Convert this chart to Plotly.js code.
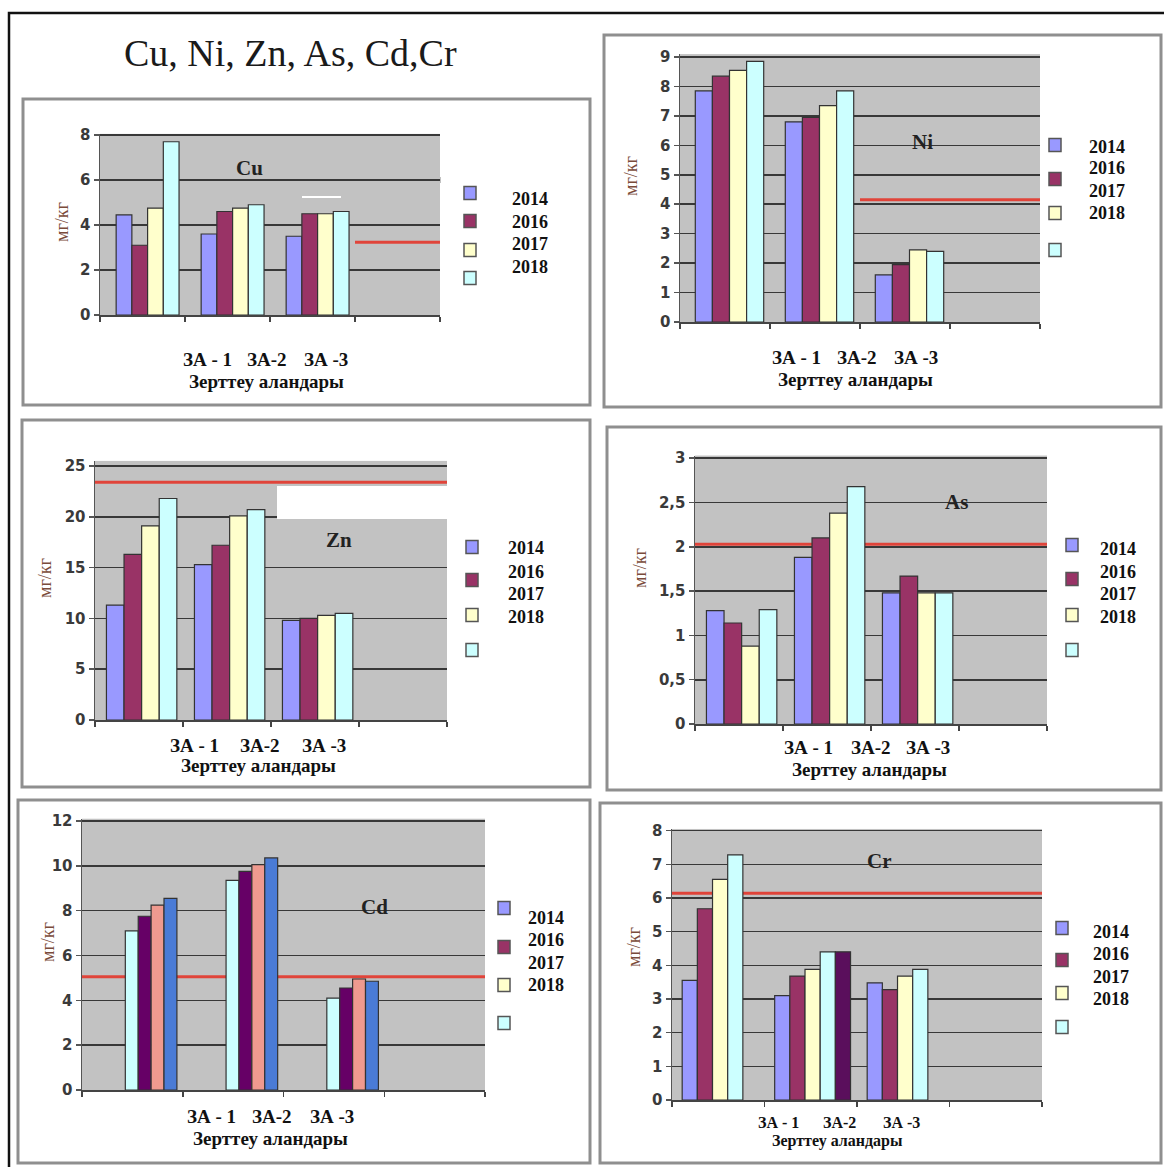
<!DOCTYPE html>
<html><head><meta charset="utf-8">
<script src="https://cdn.plot.ly/plotly-3.0.1.min.js"></script>
<style>html,body{margin:0;padding:0;background:#fff}#chart{width:1164px;height:1167px}</style>
</head><body><div id="chart"></div>
<script>
// ---------- DATA ----------
const years = ['2014', '2016', '2017', '2018'];
const sites = ['ЗА - 1', 'ЗА-2', 'ЗА -3'];
const xTitle = 'Зерттеу аландары';
const unitLabel = 'мг/кг';
const mainTitle = 'Cu, Ni, Zn, As, Cd,Cr';

const cu2014 = [4.45, 3.6, 3.5];
const cu2016 = [3.1, 4.6, 4.5];
const cu2017 = [4.75, 4.75, 4.5];
const cu2018 = [7.7, 4.9, 4.6];
const cuNorm = 3.23;

const ni2014 = [7.85, 6.8, 1.6];
const ni2016 = [8.35, 6.95, 1.95];
const ni2017 = [8.55, 7.35, 2.45];
const ni2018 = [8.85, 7.85, 2.4];
const niNorm = 4.15;

const zn2014 = [11.3, 15.3, 9.8];
const zn2016 = [16.3, 17.2, 10.0];
const zn2017 = [19.1, 20.1, 10.3];
const zn2018 = [21.8, 20.7, 10.5];
const znNorm = 23.4;

const as2014 = [1.28, 1.88, 1.48];
const as2016 = [1.14, 2.1, 1.67];
const as2017 = [0.88, 2.38, 1.48];
const as2018 = [1.29, 2.68, 1.48];
const asNorm = 2.03;

const cd2014 = [7.1, 9.35, 4.1];
const cd2016 = [7.75, 9.75, 4.55];
const cd2017 = [8.25, 10.05, 4.95];
const cd2018 = [8.55, 10.35, 4.85];
const cdNorm = 5.05;

const cr2014 = [3.55, 3.1, 3.48];
const cr2016 = [5.68, 3.68, 3.28];
const cr2017 = [6.55, 3.88, 3.68];
const cr2018 = [7.28, 4.4, 3.88];
const crExtra = [null, 4.4, null];
const crNorm = 6.14;

// ---------- STYLE / LAYOUT ----------
const W = 1164, H = 1167;
const px = x => x / W, py = y => 1 - y / H;
const baseColors = ['#9999ff', '#993366', '#ffffcc', '#ccffff'];
const cdColors = ['#ccffff', '#660066', '#ef9a8f', '#4a7bd6'];
const crColors = baseColors.concat(['#5a0f5c']);
const BG = '#c2c2c2';
const SERIF = 'Liberation Serif, Times New Roman, serif';
const TICKFONT = 'DejaVu Sans, Liberation Sans, sans-serif';

const panels = [
  {label: 'Cu', series: [cu2014, cu2016, cu2017, cu2018], colors: baseColors, norm: cuNorm, normFrom: 2.5,
   x0: 100, x1: 440, zeroY: 315, ppu: 22.5, ymax: 8.05, dtick: 2, start: -0.31, bw: 0.185,
   frame: [23, 99, 590, 405], lab: [250, 168], ytl: [62, 222], fs: 19,
   siteX: [207, 267, 326], siteY: 360, titleXY: [266, 381],
   sqX: 470, sqY: [193, 221, 250, 278], lgX: 530, lgY: [199, 222, 244, 267],
   covers: [[218, 278, 6], [333, 441, 6]]},
  {label: 'Ni', series: [ni2014, ni2016, ni2017, ni2018], colors: baseColors, norm: niNorm, normFrom: 1.5,
   x0: 680, x1: 1040, zeroY: 322, ppu: 29.44, ymax: 9.1, dtick: 1, start: -0.33, bw: 0.19,
   frame: [604, 35, 1161, 407], lab: [922, 142], ytl: [631, 176], fs: 19,
   siteX: [796, 857, 916], siteY: 357, titleXY: [855, 380],
   sqX: 1055, sqY: [145, 179, 213, 250], lgX: 1107, lgY: [147, 168, 191, 213],
   covers: [[848, 1040, 6]]},
  {label: 'Zn', series: [zn2014, zn2016, zn2017, zn2018], colors: baseColors, norm: znNorm, normFrom: -0.5,
   x0: 95, x1: 447, zeroY: 720, ppu: 10.16, ymax: 25.5, dtick: 5, start: -0.37, bw: 0.2,
   frame: [22, 420, 590, 787], lab: [339, 540], ytl: [45, 578], fs: 19,
   siteX: [194, 260, 324], siteY: 745, titleXY: [258, 765],
   sqX: 472, sqY: [547, 580, 615, 650], lgX: 526, lgY: [548, 572, 594, 617],
   covers: []},
  {label: 'As', series: [as2014, as2016, as2017, as2018], colors: baseColors, norm: asNorm, normFrom: -0.5,
   x0: 695, x1: 1047, zeroY: 724, ppu: 88.6, ymax: 3.03, dtick: 0.5, start: -0.37, bw: 0.2,
   frame: [607, 427, 1161, 790], lab: [956, 502], ytl: [640, 568], fs: 19,
   siteX: [808, 871, 928], siteY: 747, titleXY: [869, 769],
   sqX: 1072, sqY: [545, 579, 615, 650], lgX: 1118, lgY: [549, 572, 594, 617],
   covers: [[915, 992, 2.5]]},
  {label: 'Cd', series: [cd2014, cd2016, cd2017, cd2018], colors: cdColors, norm: cdNorm, normFrom: -0.5,
   x0: 82, x1: 485, zeroY: 1090, ppu: 22.42, ymax: 12.1, dtick: 2, start: -0.07, bw: 0.128,
   frame: [18, 800, 590, 1163], lab: [374, 907], ytl: [48, 942], fs: 19,
   siteX: [211, 272, 332], siteY: 1116, titleXY: [270, 1138],
   sqX: 504, sqY: [908, 947, 985, 1023], lgX: 546, lgY: [918, 940, 963, 985],
   covers: [[350, 398, 8], [289, 480, 6]]},
  {label: 'Cr', series: [cr2014, cr2016, cr2017, cr2018, crExtra], colors: crColors, norm: crNorm, normFrom: -0.5,
   x0: 672, x1: 1042, zeroY: 1100, ppu: 33.67, ymax: 8.05, dtick: 1, start: -0.39, bw: 0.164,
   frame: [600, 803, 1161, 1163], lab: [879, 861], ytl: [634, 947], fs: 16,
   siteX: [778, 839, 901], siteY: 1122, titleXY: [837, 1141],
   sqX: 1062, sqY: [928, 960, 993, 1027], lgX: 1111, lgY: [932, 954, 977, 999],
   covers: [[845, 911, 7]]}
];

const traces = [];
const layout = {
  width: W, height: H, margin: {l: 0, r: 0, t: 0, b: 0},
  paper_bgcolor: '#ffffff', plot_bgcolor: BG, showlegend: false,
  separators: ', ', barmode: 'overlay',
  shapes: [], annotations: []
};

// outer frame
layout.shapes.push({type: 'rect', xref: 'paper', yref: 'paper', x0: px(9), x1: px(1180), y0: py(13), y1: py(1185),
  line: {color: '#111', width: 2.5}, fillcolor: 'rgba(0,0,0,0)', layer: 'above'});
layout.annotations.push({xref: 'paper', yref: 'paper', x: px(290), y: py(53), text: mainTitle, showarrow: false,
  font: {family: SERIF, size: 38, color: '#1a1a1a'}, xanchor: 'center', yanchor: 'middle'});

panels.forEach((p, idx) => {
  const n = idx + 1;
  const xa = 'x' + n, ya = 'y' + n;
  const topY = p.zeroY - p.ymax * p.ppu;
  const xs = sites.map((_, k) => k);
  p.series.forEach((vals, i) => {
    traces.push({type: 'bar', x: xs, y: vals, xaxis: xa, yaxis: ya,
      width: p.bw, offset: p.start + i * p.bw,
      marker: {color: p.colors[i], line: {color: '#333333', width: 1.2}},
      hoverinfo: 'skip', showlegend: false});
  });
  const ticks = [];
  for (let v = 0; v <= p.ymax + 1e-9; v += p.dtick) ticks.push(+v.toFixed(2));
  const tickText = ticks.map(v => '<b>' + String(v).replace('.', ',') + '</b>');
  layout['xaxis' + n] = {domain: [px(p.x0), px(p.x1)], range: [-0.5, 3.5], anchor: ya,
    tickmode: 'array', tickvals: [-0.5, 0.5, 1.5, 2.5, 3.5], ticks: 'outside', ticklen: 5, tickcolor: '#444', tickwidth: 1.5,
    showticklabels: false, showgrid: false, zeroline: false, showline: true, linecolor: '#444', linewidth: 1.5, fixedrange: true};
  layout['yaxis' + n] = {domain: [py(p.zeroY), py(topY)], range: [0, p.ymax], anchor: xa,
    tickmode: 'array', tickvals: ticks, ticktext: tickText, ticks: 'outside', ticklen: 5, tickcolor: '#555', tickwidth: 1.5,
    showline: true, linecolor: '#555', linewidth: 1.5, showgrid: true, gridcolor: '#383838', gridwidth: 1.6,
    zeroline: false, fixedrange: true,
    tickfont: {family: TICKFONT, size: 15, color: '#3a3a3a', weight: 'bold'}};
  // panel frame
  layout.shapes.push({type: 'rect', xref: 'paper', yref: 'paper', x0: px(p.frame[0]), x1: px(p.frame[2]),
    y0: py(p.frame[3]), y1: py(p.frame[1]), line: {color: '#8f8f8f', width: 3}, fillcolor: 'rgba(0,0,0,0)'});
  // gridline covers (label gaps / faded gridlines)
  p.covers.forEach(c => {
    const gy = p.zeroY - c[2] * p.ppu;
    layout.shapes.push({type: 'rect', xref: 'paper', yref: 'paper', x0: px(c[0]), x1: px(c[1]),
      y0: py(gy + 3), y1: py(gy - 3), line: {width: 0}, fillcolor: BG, layer: 'between'});
  });
  // norm line
  layout.shapes.push({type: 'line', xref: xa, yref: ya, x0: p.normFrom, x1: 3.5, y0: p.norm, y1: p.norm,
    line: {color: '#e0443a', width: 3}, layer: 'between'});
  // element label
  layout.annotations.push({xref: 'paper', yref: 'paper', x: px(p.lab[0]), y: py(p.lab[1]), text: '<b>' + p.label + '</b>',
    showarrow: false, font: {family: SERIF, size: 21, color: '#222'}, xanchor: 'center', yanchor: 'middle'});
  // y title
  layout.annotations.push({xref: 'paper', yref: 'paper', x: px(p.ytl[0]), y: py(p.ytl[1]), text: unitLabel, textangle: -90,
    showarrow: false, font: {family: SERIF, size: 18, color: '#7a4b3a'}, xanchor: 'center', yanchor: 'middle'});
  // site labels
  sites.forEach((s, k) => {
    layout.annotations.push({xref: 'paper', yref: 'paper', x: px(p.siteX[k]), y: py(p.siteY), text: '<b>' + s + '</b>',
      showarrow: false, font: {family: SERIF, size: p.fs, color: '#111'}, xanchor: 'center', yanchor: 'middle'});
  });
  layout.annotations.push({xref: 'paper', yref: 'paper', x: px(p.titleXY[0]), y: py(p.titleXY[1]), text: '<b>' + xTitle + '</b>',
    showarrow: false, font: {family: SERIF, size: p.fs, color: '#111'}, xanchor: 'center', yanchor: 'middle'});
  // legend
  years.forEach((yr, k) => {
    layout.shapes.push({type: 'rect', xref: 'paper', yref: 'paper', x0: px(p.sqX - 6), x1: px(p.sqX + 6),
      y0: py(p.sqY[k] + 6.5), y1: py(p.sqY[k] - 6.5), line: {color: '#555', width: 1.5}, fillcolor: baseColors[k]});
    layout.annotations.push({xref: 'paper', yref: 'paper', x: px(p.lgX), y: py(p.lgY[k]), text: '<b>' + yr + '</b>',
      showarrow: false, font: {family: SERIF, size: 18, color: '#111'}, xanchor: 'center', yanchor: 'middle'});
  });
});

// scanning artifacts
layout.shapes.push({type: 'line', xref: 'paper', yref: 'paper', x0: px(302), x1: px(341), y0: py(197), y1: py(197),
  line: {color: '#ffffff', width: 2}});
layout.shapes.push({type: 'rect', xref: 'paper', yref: 'paper', x0: px(277), x1: px(447), y0: py(519), y1: py(486),
  line: {width: 0}, fillcolor: '#ffffff'});

Plotly.newPlot('chart', traces, layout, {displayModeBar: false, staticPlot: true});
</script>
</body></html>
